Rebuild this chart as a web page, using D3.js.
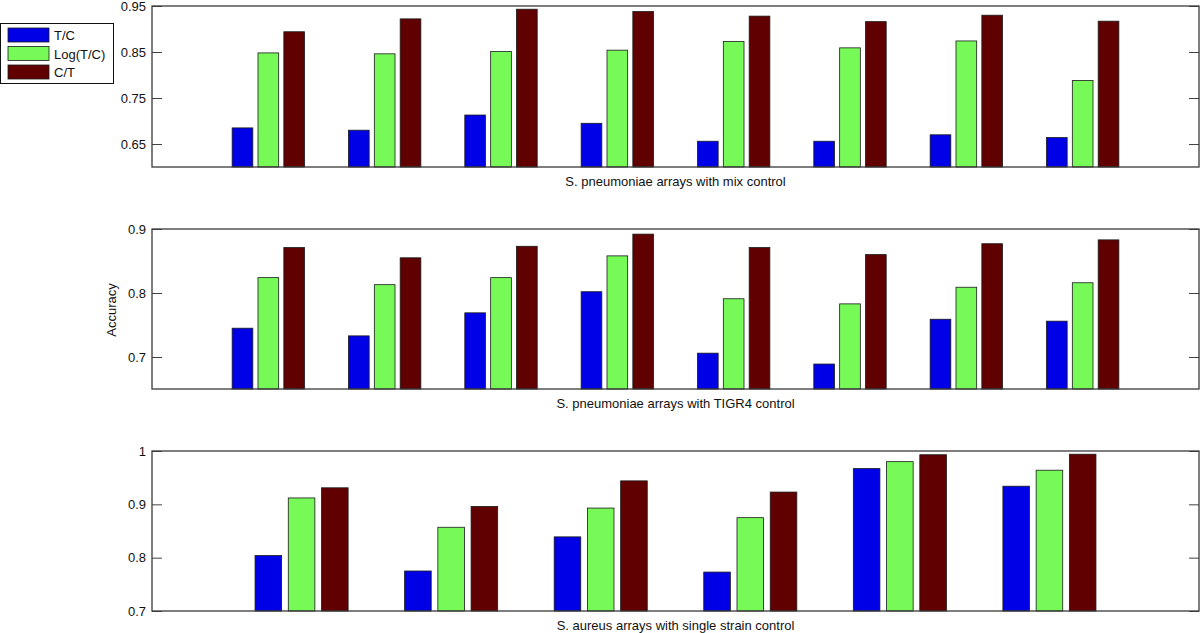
<!DOCTYPE html>
<html>
<head>
<meta charset="utf-8">
<script src="https://cdn.jsdelivr.net/npm/d3@7"></script>
<style>
  body { margin: 0; background: #fff; }
  svg { font-family: "Liberation Sans", Arial, sans-serif; }
</style>
</head>
<body>
<svg width="1200" height="633"></svg>
<script>
// series names and colours
let seriesNames = ["T/C", "Log(T/C)", "C/T"]
let seriesColors = ["#0000e6", "#77fa58", "#600000"]

// panel 1: S. pneumoniae with mix control
let mixTC  = [0.685, 0.680, 0.713, 0.695, 0.656, 0.656, 0.670, 0.664]
let mixLog = [0.848, 0.846, 0.851, 0.854, 0.873, 0.859, 0.874, 0.788]
let mixCT  = [0.894, 0.922, 0.943, 0.938, 0.928, 0.916, 0.930, 0.917]
let mixTicks = [0.65, 0.75, 0.85, 0.95]
let mixTickLabels = ["0.65", "0.75", "0.85", "0.95"]

// panel 2: S. pneumoniae with TIGR4 control
let tigrTC  = [0.745, 0.733, 0.769, 0.802, 0.706, 0.689, 0.759, 0.756]
let tigrLog = [0.824, 0.813, 0.824, 0.858, 0.791, 0.783, 0.809, 0.816]
let tigrCT  = [0.871, 0.855, 0.873, 0.892, 0.871, 0.860, 0.877, 0.883]
let tigrTicks = [0.7, 0.8, 0.9]
let tigrTickLabels = ["0.7", "0.8", "0.9"]

// panel 3: S. aureus with single strain control
let aurTC  = [0.804, 0.775, 0.839, 0.773, 0.967, 0.934]
let aurLog = [0.912, 0.857, 0.893, 0.875, 0.980, 0.964]
let aurCT  = [0.931, 0.896, 0.944, 0.923, 0.993, 0.994]
let aurTicks = [0.7, 0.8, 0.9, 1]
let aurTickLabels = ["0.7", "0.8", "0.9", "1"]

let svg = d3.select("svg")

let left = 152
let right = 1199

let panels = [
  { series: [mixTC, mixLog, mixCT], ymin: 0.6, ymax: 0.95, top: 6, bottom: 167,
    ticks: mixTicks, labels: mixTickLabels, xlabel: "S. pneumoniae arrays with mix control", lab: 186 },
  { series: [tigrTC, tigrLog, tigrCT], ymin: 0.65, ymax: 0.9, top: 229, bottom: 389,
    ticks: tigrTicks, labels: tigrTickLabels, xlabel: "S. pneumoniae arrays with TIGR4 control", lab: 408 },
  { series: [aurTC, aurLog, aurCT], ymin: 0.7, ymax: 1, top: 451, bottom: 611,
    ticks: aurTicks, labels: aurTickLabels, xlabel: "S. aureus arrays with single strain control", lab: 630 }
]

let drawPanel = (p) => {
  let n = p.series[0].length
  let xScale = d3.scaleLinear().domain([0, n + 1]).range([left, right])
  let yScale = d3.scaleLinear().domain([p.ymin, p.ymax]).range([p.bottom, p.top])

  let g = svg.append("g")

  // bars (matlab style grouped bars)
  let step = 2 / 9
  let bw = step * 0.8
  p.series.forEach((vals, s) => {
    g.selectAll(null)
      .data(vals)
      .enter()
      .append("rect")
      .attr("x", (d, i) => xScale(i + 1 + (s - 1) * step - bw / 2))
      .attr("width", xScale(bw) - xScale(0))
      .attr("y", d => yScale(d))
      .attr("height", d => p.bottom - yScale(d))
      .attr("fill", seriesColors[s])
      .attr("stroke", "#1a1a1a")
      .attr("stroke-width", 0.8)
  })

  let yAxis = d3.axisLeft(yScale)
                .tickValues(p.ticks)
                .tickSize(-10)
                .tickPadding(6)
                .tickFormat((d, i) => p.labels[i])
  g.append("g")
   .attr("transform", "translate(" + left + ",0)")
   .call(yAxis)
   .call(a => a.select(".domain").remove())
   .call(a => a.selectAll("line").attr("stroke", "#444"))
   .call(a => a.selectAll("text").style("font-size", "13px").attr("fill", "#111"))

  let yAxisR = d3.axisRight(yScale)
                 .tickValues(p.ticks)
                 .tickSize(-10)
                 .tickFormat("")
  g.append("g")
   .attr("transform", "translate(" + right + ",0)")
   .call(yAxisR)
   .call(a => a.select(".domain").remove())
   .call(a => a.selectAll("line").attr("stroke", "#444"))

  g.append("rect")
   .attr("x", left)
   .attr("y", p.top)
   .attr("width", right - left)
   .attr("height", p.bottom - p.top)
   .attr("fill", "none")
   .attr("stroke", "#3a3a3a")
   .attr("stroke-width", 1.3)

  g.append("text")
   .attr("x", (left + right) / 2)
   .attr("y", p.lab)
   .attr("text-anchor", "middle")
   .style("font-size", "13px")
   .attr("fill", "#111")
   .text(p.xlabel)
}

panels.forEach(drawPanel)

// y label
svg.append("text")
   .attr("transform", "translate(116,310) rotate(-90)")
   .attr("text-anchor", "middle")
   .style("font-size", "13px")
   .attr("fill", "#111")
   .text("Accuracy")

// legend
svg.append("rect")
   .attr("x", 0.5).attr("y", 23.5)
   .attr("width", 113).attr("height", 60)
   .attr("fill", "#fff")
   .attr("stroke", "#111")
seriesNames.forEach((name, i) => {
  svg.append("rect")
     .attr("x", 8).attr("y", 28 + i * 18.5)
     .attr("width", 41).attr("height", 14)
     .attr("fill", seriesColors[i])
     .attr("stroke", "#1a1a1a")
     .attr("stroke-width", 0.8)
  svg.append("text")
     .attr("x", 54).attr("y", 40 + i * 18.5)
     .style("font-size", "13px")
     .attr("fill", "#111")
     .text(name)
})
</script>
</body>
</html>
